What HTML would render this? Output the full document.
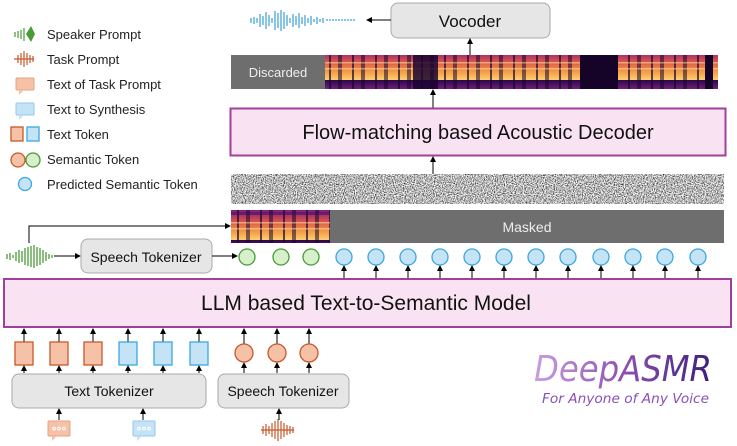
<!DOCTYPE html>
<html><head><meta charset="utf-8"><style>
html,body{margin:0;padding:0;background:#fff;}
svg{display:block;font-family:"Liberation Sans",sans-serif;}
</style></head><body>
<svg width="737" height="446" viewBox="0 0 737 446" xmlns="http://www.w3.org/2000/svg">
<defs>
<marker id="ah" markerWidth="6" markerHeight="6" refX="5" refY="3" orient="auto" markerUnits="userSpaceOnUse"><path d="M0,0 L6,3 L0,6 z" fill="#000"/></marker>
<linearGradient id="spec" x1="0" y1="0" x2="0" y2="1">
<stop offset="0" stop-color="#2a0848"/><stop offset="0.25" stop-color="#7a2080"/><stop offset="0.5" stop-color="#d04a50"/><stop offset="0.75" stop-color="#f49040"/><stop offset="1" stop-color="#fbd070"/></linearGradient>
<pattern id="stripes" width="23" height="40" patternUnits="userSpaceOnUse">
<rect width="23" height="40" fill="url(#spec)"/>
<rect x="7" width="2" height="40" fill="#1a0530" opacity="0.7"/>
<rect x="16" width="4" height="40" fill="#1a0530" opacity="0.55"/>
<rect y="12" width="23" height="3" fill="#3a0a5a" opacity="0.5"/>
<rect y="22" width="23" height="1.5" fill="#fff0b0" opacity="0.5"/>
<rect y="28" width="23" height="1.5" fill="#fff0b0" opacity="0.5"/>
</pattern>
<filter id="noise" x="0" y="0" width="100%" height="100%" color-interpolation-filters="sRGB"><feTurbulence type="fractalNoise" baseFrequency="0.9" numOctaves="2" seed="3"/><feColorMatrix type="matrix" values="2 0 0 0 -0.28  2 0 0 0 -0.28  2 0 0 0 -0.28  0 0 0 0 1"/></filter>
<linearGradient id="logo" x1="0" y1="0" x2="1" y2="0"><stop offset="0" stop-color="#c8a0e0"/><stop offset="0.5" stop-color="#9050b0"/><stop offset="1" stop-color="#3a2080"/></linearGradient>
</defs>

<!-- Legend -->
<g font-size="13" fill="#222">
<g stroke="#4a9a3a" stroke-width="1.2">
<line x1="15" y1="32" x2="15" y2="37"/><line x1="18" y1="31" x2="18" y2="38"/><line x1="21" y1="30" x2="21" y2="39"/><line x1="24" y1="28" x2="24" y2="41"/>
</g><path d="M26,34 L31,26 L35,34 L31,42 z" fill="#4a9a3a"/>
<text x="47" y="39">Speaker Prompt</text>
<g stroke="#c8582a" stroke-width="1.2">
<line x1="14" y1="59" x2="34" y2="59"/><line x1="18" y1="55" x2="18" y2="63"/><line x1="21" y1="53" x2="21" y2="65"/><line x1="24" y1="51" x2="24" y2="67"/><line x1="27" y1="53" x2="27" y2="65"/><line x1="30" y1="55" x2="30" y2="63"/><line x1="33" y1="56" x2="33" y2="62"/>
</g>
<text x="47" y="64">Task Prompt</text>
<rect x="16" y="78" width="18" height="12" rx="1" fill="#f5c2a8" stroke="#e8a080"/><path d="M19,90 L19,95 L24,90z" fill="#f5c2a8"/>
<text x="47" y="89">Text of Task Prompt</text>
<rect x="16" y="103" width="18" height="12" rx="1" fill="#c4e4f6" stroke="#90c8ea"/><path d="M19,115 L19,120 L24,115z" fill="#c4e4f6"/>
<text x="47" y="114">Text to Synthesis</text>
<rect x="11" y="127" width="12" height="14" fill="#f5c2a8" stroke="#c8582a" stroke-width="1.3"/>
<rect x="27" y="127" width="12" height="14" fill="#c4e4f6" stroke="#3aa8e0" stroke-width="1.3"/>
<text x="47" y="139">Text Token</text>
<circle cx="18" cy="160" r="7" fill="#f5c2a8" stroke="#c8582a" stroke-width="1.3"/>
<circle cx="33" cy="160" r="7" fill="#d6f0cc" stroke="#4a9a3a" stroke-width="1.3"/>
<text x="47" y="164">Semantic Token</text>
<circle cx="25" cy="184" r="6.5" fill="#c4e4f6" stroke="#3aa8e0" stroke-width="1.3"/>
<text x="47" y="189">Predicted Semantic Token</text>
</g>

<!-- Vocoder -->
<rect x="391" y="3" width="159" height="35" rx="7" fill="#e6e6e6" stroke="#aaa"/>
<text x="470" y="27" font-size="17" text-anchor="middle" fill="#111">Vocoder</text>
<line x1="391" y1="20" x2="367" y2="20" stroke="#000" marker-end="url(#ah)"/>
<g stroke="#3aa0d8" stroke-width="1.2">
<line x1="251" y1="18" x2="251" y2="23"/><line x1="254" y1="17" x2="254" y2="24"/><line x1="257" y1="18" x2="257" y2="23"/><line x1="260" y1="14" x2="260" y2="27"/><line x1="263" y1="16" x2="263" y2="25"/><line x1="266" y1="12" x2="266" y2="29"/><line x1="269" y1="15" x2="269" y2="26"/><line x1="272" y1="18" x2="272" y2="23"/><line x1="275" y1="11" x2="275" y2="30"/><line x1="278" y1="13" x2="278" y2="28"/><line x1="281" y1="10" x2="281" y2="31"/><line x1="284" y1="12" x2="284" y2="29"/><line x1="287" y1="15" x2="287" y2="26"/><line x1="290" y1="18" x2="290" y2="23"/><line x1="293" y1="14" x2="293" y2="27"/><line x1="296" y1="16" x2="296" y2="25"/><line x1="299" y1="13" x2="299" y2="28"/><line x1="302" y1="17" x2="302" y2="24"/><line x1="305" y1="15" x2="305" y2="26"/><line x1="308" y1="18" x2="308" y2="23"/><line x1="311" y1="16" x2="311" y2="25"/><line x1="314" y1="19" x2="314" y2="22"/><line x1="317" y1="17" x2="317" y2="24"/><line x1="320" y1="19" x2="320" y2="22"/><line x1="323" y1="18" x2="323" y2="23"/>
<line x1="326" y1="20" x2="356" y2="20" stroke-dasharray="2,1"/>
</g>

<!-- Discarded bar -->
<line x1="470" y1="55" x2="470" y2="39" stroke="#000" marker-end="url(#ah)"/>
<rect x="231" y="55" width="94" height="34" fill="#6e6e6e"/>
<text x="278" y="77" font-size="13" fill="#eee" text-anchor="middle">Discarded</text>
<rect x="325" y="55" width="393" height="34" fill="url(#stripes)"/>
<rect x="413" y="55" width="25" height="34" fill="#1a0530" opacity="0.85"/>
<rect x="580" y="55" width="38" height="34" fill="#150428"/>
<rect x="705" y="55" width="8" height="34" fill="#150428"/>

<line x1="433" y1="108" x2="433" y2="90" stroke="#000" marker-end="url(#ah)"/>
<rect x="230.5" y="108.5" width="495" height="47" fill="#f9e3f3" stroke="#a0409a" stroke-width="2"/>
<text x="478" y="139" font-size="20" text-anchor="middle" fill="#111">Flow-matching based Acoustic Decoder</text>
<line x1="433" y1="174" x2="433" y2="157" stroke="#000" marker-end="url(#ah)"/>

<!-- noise -->
<rect x="231" y="174" width="493" height="30" filter="url(#noise)"/>

<!-- masked -->
<rect x="231" y="210" width="99" height="33" fill="url(#stripes)"/>
<rect x="330" y="210" width="394" height="33" fill="#6e6e6e"/>
<text x="527" y="232" font-size="14" fill="#eee" text-anchor="middle">Masked</text>

<!-- upper speech path -->
<polyline points="29,243 29,226 230,226" fill="none" stroke="#000" marker-end="url(#ah)"/>
<g stroke="#4a9a3a" stroke-width="1.3">
<line x1="7" y1="254" x2="7" y2="259"/><line x1="10" y1="253" x2="10" y2="260"/><line x1="13" y1="255" x2="13" y2="258"/><line x1="16" y1="252" x2="16" y2="261"/><line x1="19" y1="250" x2="19" y2="263"/><line x1="22" y1="251" x2="22" y2="262"/><line x1="25" y1="248" x2="25" y2="265"/><line x1="28" y1="247" x2="28" y2="266"/><line x1="31" y1="246" x2="31" y2="267"/><line x1="34" y1="245" x2="34" y2="268"/><line x1="37" y1="247" x2="37" y2="266"/><line x1="40" y1="248" x2="40" y2="265"/><line x1="43" y1="250" x2="43" y2="263"/><line x1="46" y1="252" x2="46" y2="261"/><line x1="49" y1="254" x2="49" y2="259"/><line x1="52" y1="255" x2="52" y2="258"/>
</g>
<line x1="54" y1="256" x2="80" y2="256" stroke="#000" marker-end="url(#ah)"/>
<rect x="81" y="239" width="131" height="34" rx="7" fill="#e6e6e6" stroke="#aaa"/>
<text x="146" y="262" font-size="14" text-anchor="middle" fill="#111">Speech Tokenizer</text>
<line x1="212" y1="256" x2="237" y2="256" stroke="#000" marker-end="url(#ah)"/>

<!-- tokens row -->
<g stroke-width="1.3">
<circle cx="247" cy="257" r="8" fill="#d6f0cc" stroke="#4a9a3a"/>
<circle cx="281" cy="257" r="8" fill="#d6f0cc" stroke="#4a9a3a"/>
<circle cx="311" cy="257" r="8" fill="#d6f0cc" stroke="#4a9a3a"/>
</g>
<g stroke-width="1.3" fill="#c4e4f6" stroke="#3aa8e0">
<circle cx="344" cy="257" r="8"/><circle cx="376" cy="257" r="8"/><circle cx="408" cy="257" r="8"/><circle cx="440" cy="257" r="8"/><circle cx="472" cy="257" r="8"/><circle cx="504" cy="257" r="8"/><circle cx="536" cy="257" r="8"/><circle cx="568" cy="257" r="8"/><circle cx="601" cy="257" r="8"/><circle cx="633" cy="257" r="8"/><circle cx="665" cy="257" r="8"/><circle cx="698" cy="257" r="8"/>
</g>
<g stroke="#000" marker-end="url(#ah)">
<line x1="344" y1="278" x2="344" y2="266"/><line x1="376" y1="278" x2="376" y2="266"/><line x1="408" y1="278" x2="408" y2="266"/><line x1="440" y1="278" x2="440" y2="266"/><line x1="472" y1="278" x2="472" y2="266"/><line x1="504" y1="278" x2="504" y2="266"/><line x1="536" y1="278" x2="536" y2="266"/><line x1="568" y1="278" x2="568" y2="266"/><line x1="601" y1="278" x2="601" y2="266"/><line x1="633" y1="278" x2="633" y2="266"/><line x1="665" y1="278" x2="665" y2="266"/><line x1="698" y1="278" x2="698" y2="266"/>
</g>

<!-- LLM -->
<rect x="4" y="279" width="727" height="48" fill="#f9e3f3" stroke="#a0409a" stroke-width="2"/>
<text x="366" y="310" font-size="21" text-anchor="middle" fill="#111">LLM based Text-to-Semantic Model</text>

<!-- bottom tokens -->
<g stroke="#000" marker-end="url(#ah)">
<line x1="24" y1="342" x2="24" y2="329"/><line x1="59" y1="342" x2="59" y2="329"/><line x1="93" y1="342" x2="93" y2="329"/><line x1="128" y1="342" x2="128" y2="329"/><line x1="163" y1="342" x2="163" y2="329"/><line x1="199" y1="342" x2="199" y2="329"/>
<line x1="244" y1="344" x2="244" y2="329"/><line x1="277" y1="344" x2="277" y2="329"/><line x1="309" y1="344" x2="309" y2="329"/>
<line x1="24" y1="373" x2="24" y2="366"/><line x1="59" y1="373" x2="59" y2="366"/><line x1="93" y1="373" x2="93" y2="366"/><line x1="128" y1="373" x2="128" y2="366"/><line x1="163" y1="373" x2="163" y2="366"/><line x1="199" y1="373" x2="199" y2="366"/>
<line x1="244" y1="373" x2="244" y2="363"/><line x1="277" y1="373" x2="277" y2="363"/><line x1="309" y1="373" x2="309" y2="363"/>
<line x1="59" y1="420" x2="59" y2="409"/><line x1="143" y1="420" x2="143" y2="409"/><line x1="279" y1="420" x2="279" y2="409"/>
</g>
<g stroke-width="1.3">
<rect x="15" y="342" width="18" height="23" fill="#f5c2a8" stroke="#c8582a"/>
<rect x="50" y="342" width="18" height="23" fill="#f5c2a8" stroke="#c8582a"/>
<rect x="84" y="342" width="18" height="23" fill="#f5c2a8" stroke="#c8582a"/>
<rect x="119" y="342" width="18" height="23" fill="#c4e4f6" stroke="#3aa8e0"/>
<rect x="154" y="342" width="18" height="23" fill="#c4e4f6" stroke="#3aa8e0"/>
<rect x="190" y="342" width="18" height="23" fill="#c4e4f6" stroke="#3aa8e0"/>
<circle cx="244" cy="353" r="9" fill="#f5c2a8" stroke="#c8582a"/>
<circle cx="277" cy="353" r="9" fill="#f5c2a8" stroke="#c8582a"/>
<circle cx="309" cy="353" r="9" fill="#f5c2a8" stroke="#c8582a"/>
</g>
<rect x="12" y="374" width="194" height="34" rx="7" fill="#e6e6e6" stroke="#aaa"/>
<text x="109" y="396" font-size="14" text-anchor="middle" fill="#111">Text Tokenizer</text>
<rect x="218" y="374" width="131" height="34" rx="7" fill="#e6e6e6" stroke="#aaa"/>
<text x="283" y="396" font-size="14" text-anchor="middle" fill="#111">Speech Tokenizer</text>

<!-- bubbles -->
<rect x="48" y="421" width="22" height="15" rx="1" fill="#f5c2a8" stroke="#e8a080"/><path d="M52,436 L52,441 L57,436z" fill="#f5c2a8"/>
<g fill="none" stroke="#fff" stroke-width="1"><circle cx="54" cy="428.5" r="1.4"/><circle cx="59" cy="428.5" r="1.4"/><circle cx="64" cy="428.5" r="1.4"/></g>
<rect x="133" y="421" width="22" height="15" rx="1" fill="#c4e4f6" stroke="#90c8ea"/><path d="M137,436 L137,441 L142,436z" fill="#c4e4f6"/>
<g fill="none" stroke="#fff" stroke-width="1"><circle cx="139" cy="428.5" r="1.4"/><circle cx="144" cy="428.5" r="1.4"/><circle cx="149" cy="428.5" r="1.4"/></g>
<g stroke="#c8582a" stroke-width="1.2">
<line x1="261" y1="430" x2="294" y2="430"/><line x1="263" y1="426" x2="263" y2="434"/><line x1="266" y1="424" x2="266" y2="436"/><line x1="269" y1="426" x2="269" y2="434"/><line x1="272" y1="423" x2="272" y2="437"/><line x1="275" y1="421" x2="275" y2="439"/><line x1="278" y1="419" x2="278" y2="441"/><line x1="281" y1="421" x2="281" y2="439"/><line x1="284" y1="423" x2="284" y2="437"/><line x1="287" y1="425" x2="287" y2="435"/><line x1="290" y1="426" x2="290" y2="434"/><line x1="293" y1="427" x2="293" y2="433"/>
</g>

<!-- logo -->
<text x="534" y="381" font-size="36" font-style="italic" fill="url(#logo)" font-family="'DejaVu Sans',sans-serif" textLength="178" lengthAdjust="spacingAndGlyphs">DeepASMR</text>
<text x="542" y="403" font-size="13" font-style="italic" fill="#8a50b8" font-family="'DejaVu Sans',sans-serif" textLength="167" lengthAdjust="spacingAndGlyphs">For Anyone of Any Voice</text>
</svg>
</body></html>
